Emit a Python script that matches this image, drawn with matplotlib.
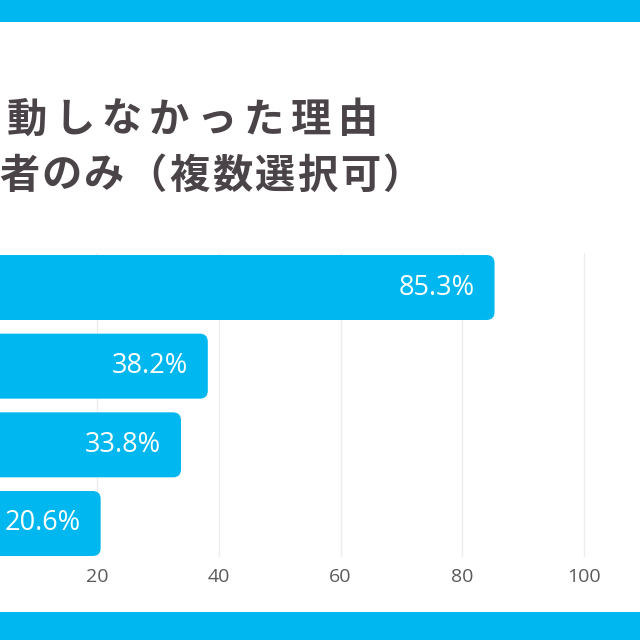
import matplotlib
matplotlib.use("Agg")
import matplotlib.pyplot as plt
from matplotlib.patches import FancyBboxPatch, Rectangle

# ---- data ----
categories = ["A", "B", "C", "D"]
values = [85.3, 38.2, 33.8, 20.6]
value_labels = ["85.3%", "38.2%", "33.8%", "20.6%"]
xticks = [20, 40, 60, 80, 100]
xtick_labels = ["20", "40", "60", "80", "100"]
title_line1 = "動しなかった理由"
title_line2 = "者のみ（複数選択可）"

# ---- style ----
CYAN = "#00b8ef"
TITLE_COLOR = "#4a4448"
GRID = "#ececec"
TICK_COLOR = "#5a5a5a"
CJK = ["Noto Sans CJK JP", "DejaVu Sans"]
LATIN = ["Open Sans", "DejaVu Sans"]

W = H = 640
fig = plt.figure(figsize=(6.4, 6.4), dpi=100)
fig.patch.set_facecolor("white")

# bands
fig.patches.append(Rectangle((0, 1 - 22 / H), 1, 22 / H, transform=fig.transFigure,
                             facecolor=CYAN, edgecolor="none", zorder=0))
fig.patches.append(Rectangle((0, 0), 1, 28 / H, transform=fig.transFigure,
                             facecolor=CYAN, edgecolor="none", zorder=0))


def spaced_title(text, first_center_px, advance_px, yc_px, size):
    """Draw a title line with letter spacing (one glyph per text artist)."""
    for i, ch in enumerate(text):
        fig.text((first_center_px + i * advance_px) / W, 1 - yc_px / H, ch,
                 family=CJK, fontsize=size, fontweight="bold", color=TITLE_COLOR,
                 ha="center", va="center")


spaced_title(title_line1, 27, 47.3, 120, 29)
spaced_title(title_line2, 19, 42.6, 176, 29)

# axes
ax_top, ax_bot = 253, 557
ax = fig.add_axes([0, 1 - ax_bot / H, 1, (ax_bot - ax_top) / H])
ax.set_facecolor("none")
px_per_unit = 487 / 80.0
zero_px = 97 - 20 * px_per_unit
ax.set_xlim(-zero_px / px_per_unit, (W - zero_px) / px_per_unit)
ax.set_ylim(3.426, -0.4386)

ypos = list(range(len(categories)))
bars = ax.barh(ypos, values, height=0.826, color=CYAN, zorder=2)

# convert bars to rounded-end boxes
fig.canvas.draw()
x_unit_px = ax.transData.transform((1, 0))[0] - ax.transData.transform((0, 0))[0]
y_unit_px = abs(ax.transData.transform((0, 1))[1] - ax.transData.transform((0, 0))[1])
aspect = x_unit_px / y_unit_px
radius_px = 8
for rect in bars.patches:
    x, y = rect.get_x(), rect.get_y()
    w, h = rect.get_width(), rect.get_height()
    rect.set_visible(False)
    box = FancyBboxPatch((x - 5, y), w + 5, h,
                         boxstyle=f"round,pad=0,rounding_size={radius_px / x_unit_px}",
                         mutation_aspect=aspect,
                         facecolor=CYAN, edgecolor="none", zorder=2)
    ax.add_patch(box)

for yi, v, lab in zip(ypos, values, value_labels):
    ax.annotate(lab, xy=(v, yi), xytext=(-20, 0), textcoords="offset pixels",
                ha="right", va="center", color="white", fontsize=19.5,
                family=LATIN, fontweight="normal", zorder=3)

ax.set_xticks(xticks)
ax.set_xticklabels(xtick_labels)
ax.set_yticks([])
ax.grid(axis="x", color=GRID, linewidth=1, zorder=0)
ax.set_axisbelow(True)
ax.tick_params(axis="x", length=0, pad=8, labelsize=14, labelcolor=TICK_COLOR)
for lbl in ax.get_xticklabels():
    lbl.set_family(LATIN)
for s in ax.spines.values():
    s.set_visible(False)

fig.savefig("out.png", dpi=100, facecolor="white")
